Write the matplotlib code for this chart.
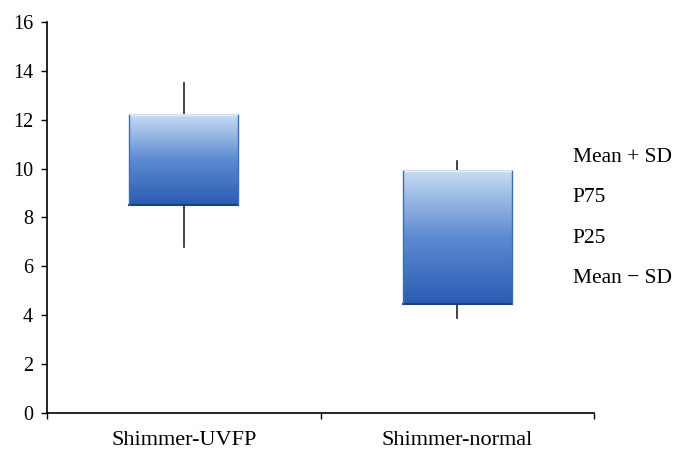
import numpy as np
import matplotlib.pyplot as plt
from matplotlib.colors import LinearSegmentedColormap

# values
groups = ['Shimmer-UVFP', 'Shimmer-normal']
mean_plus_sd = [13.5, 10.3]
p75 = [12.2, 9.9]
p25 = [8.5, 4.45]
mean_minus_sd = [6.8, 3.9]
legend_labels = ['Mean + SD', 'P75', 'P25', 'Mean \u2212 SD']

plt.rcParams['font.family'] = ['Liberation Serif', 'DejaVu Serif']

fig = plt.figure(figsize=(6.86, 4.57), dpi=100)
ax = fig.add_axes([0.0685, 0.0963, 0.7975, 0.8557])

grad = LinearSegmentedColormap.from_list('box', ['#2a5cb4', '#5d8bd0', '#c8dcf3'])
gradient = np.linspace(0, 1, 256).reshape(-1, 1)
half = 0.2

for i in range(len(groups)):
    # whisker
    ax.plot([i, i], [mean_minus_sd[i], mean_plus_sd[i]], color='#222222', lw=1.2, zorder=1)
    # box with vertical gradient
    ax.imshow(gradient, cmap=grad, origin='lower', aspect='auto',
              extent=[i - half, i + half, p25[i], p75[i]], zorder=2)
    ax.plot([i - half, i + half], [p25[i], p25[i]], color='#1c3f7a', lw=1.5, zorder=3)
    ax.plot([i - half, i + half], [p75[i], p75[i]], color='#e4eefa', lw=1.0, zorder=3)
    ax.plot([i - half, i - half], [p25[i], p75[i]], color='#3e6cb8', lw=1.0, zorder=3)
    ax.plot([i + half, i + half], [p25[i], p75[i]], color='#3e6cb8', lw=1.0, zorder=3)

ax.set_xlim(-0.5, 1.5)
ax.set_ylim(0, 16)
ax.set_yticks(range(0, 17, 2))
ax.set_xticks([-0.5, 0.5, 1.5])
ax.set_xticklabels([])
ax.set_xticks(range(len(groups)), minor=True)
ax.set_xticklabels(groups, minor=True)
ax.tick_params(axis='x', which='minor', length=0, labelsize=16, pad=13)
ax.tick_params(axis='x', which='major', length=4, width=1)
ax.tick_params(axis='y', length=4, width=1, labelsize=14.5, pad=6)

for s in ['top', 'right']:
    ax.spines[s].set_visible(False)
for s in ['left', 'bottom']:
    ax.spines[s].set_linewidth(1.2)

for k, lab in enumerate(legend_labels):
    fig.text(0.835, 0.655 - k * 0.088, lab, fontsize=15.5, ha='left', va='center')

fig.savefig('out.png', dpi=100)
